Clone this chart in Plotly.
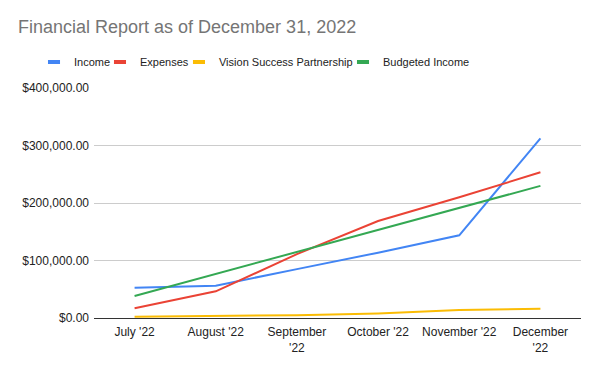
import plotly.graph_objects as go

months = ["July '22", "August '22", "September<br>'22", "October '22", "November '22", "December<br>'22"]
income = [52700, 56200, 85000, 113600, 143800, 312500]
expenses = [16800, 46400, 111000, 168700, 209900, 253400]
vision = [2300, 3500, 5000, 8000, 13900, 16200]
budgeted = [38300, 76600, 115000, 153200, 191500, 229800]

series = [
    ("Income", income, "#4285F4"),
    ("Expenses", expenses, "#EA4335"),
    ("Vision Success Partnership", vision, "#FBBC04"),
    ("Budgeted Income", budgeted, "#34A853"),
]
legend_ids = ["legend", "legend2", "legend3", "legend4"]
legend_x = [-0.1232, 0.0123, 0.1745, 0.5113]

fig = go.Figure()
for (name, vals, color), lid in zip(series, legend_ids):
    fig.add_trace(go.Scatter(x=months, y=vals, name=name, mode="lines",
                             line=dict(color=color, width=2), showlegend=False))
    fig.add_trace(go.Scatter(x=[None], y=[None], name=name, mode="markers",
                             marker=dict(symbol="line-ew", size=8.6, color=color,
                                         line=dict(width=4, color=color)),
                             legend=lid, showlegend=True, hoverinfo="skip"))

font_family = "Arial, Liberation Sans, sans-serif"
legend_common = dict(orientation="h", xanchor="left", y=1.113, yanchor="middle",
                     font=dict(size=11, color="#222222", family=font_family),
                     bgcolor="rgba(0,0,0,0)", borderwidth=0)
layout_legends = {}
for lid, lx in zip(legend_ids, legend_x):
    layout_legends[lid] = dict(legend_common, x=lx)

fig.update_layout(
    width=600, height=371,
    margin=dict(l=94, r=19, t=88, b=53, autoexpand=False),
    paper_bgcolor="white", plot_bgcolor="white",
    font=dict(family=font_family, size=12, color="#222222"),
    title=dict(text="Financial Report as of December 31, 2022", x=0.03, xref="container",
               xanchor="left", y=1 - 27 / 371, yanchor="middle",
               font=dict(size=18, color="#757575", family=font_family)),
    showlegend=True,
    **layout_legends,
)
fig.update_xaxes(type="category", range=[-0.5, 5.5], showgrid=False, showline=True,
                 linecolor="#333333", linewidth=1, ticks="", ticklabelstandoff=3,
                 tickfont=dict(size=12, color="#222222"))
fig.update_yaxes(range=[0, 400000], dtick=100000, tickformat="$,.2f", showgrid=True,
                 gridcolor="#cccccc", gridwidth=1, zeroline=False, showline=False,
                 ticks="", ticklabelstandoff=4, tickfont=dict(size=12, color="#222222"))

fig.write_html("out.html", config={"displayModeBar": False},
               post_script="document.body.style.margin='0';")
